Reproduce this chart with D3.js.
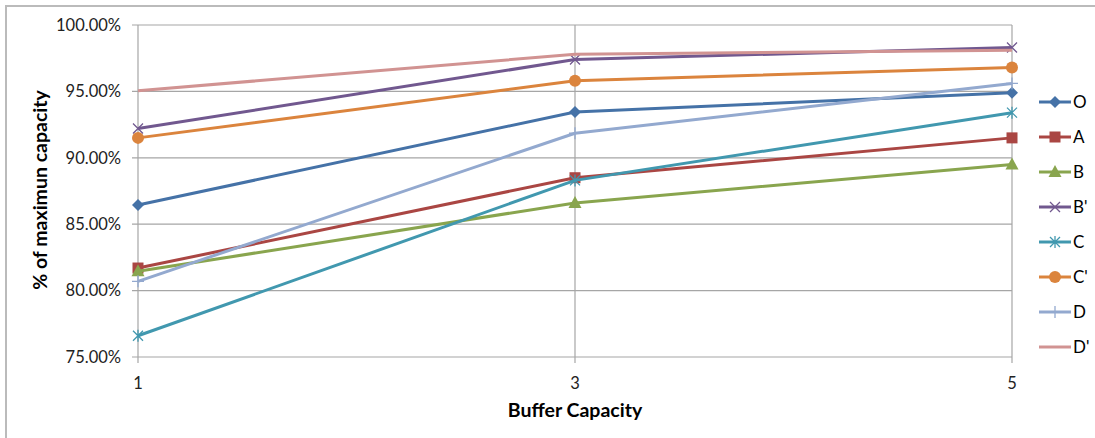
<!DOCTYPE html>
<html>
<head>
<meta charset="utf-8">
<script src="https://cdn.jsdelivr.net/npm/d3@7"></script>
<style>
  body { margin: 0; background: #fff; }
  svg { display: block; font-family: Lato, "Liberation Sans", sans-serif; }
</style>
</head>
<body>
<div id="chart-container"></div>
<script>
// Chart data
const bufferSizes = [1, 3, 5];
const seriesNames = ["O", "A", "B", "B'", "C", "C'", "D", "D'"];
const valuesO  = [86.45, 93.45, 94.9];
const valuesA  = [81.7, 88.5, 91.5];
const valuesB  = [81.45, 86.6, 89.5];
const valuesB2 = [92.2, 97.4, 98.3];
const valuesC  = [76.6, 88.3, 93.4];
const valuesC2 = [91.5, 95.8, 96.8];
const valuesD  = [80.7, 91.85, 95.6];
const valuesD2 = [95.05, 97.8, 98.1];
const yTicks = [75, 80, 85, 90, 95, 100];

const colors = ["#4572A7", "#AA4643", "#89A54E", "#71588F", "#4198AF", "#DB843D", "#93A9CF", "#D19392"];
const markers = ["diamond", "square", "triangle", "x", "star", "circle", "plus", "none"];

const series = [valuesO, valuesA, valuesB, valuesB2, valuesC, valuesC2, valuesD, valuesD2]
  .map((vals, i) => ({ name: seriesNames[i], values: vals, color: colors[i], marker: markers[i] }));

const width = 1095, height = 438;
const svg = d3.select("#chart-container").append("svg")
  .attr("width", width).attr("height", height);

// outer chart border (right/bottom edges fall outside the frame)
svg.append("rect")
  .attr("x", 6).attr("y", 6).attr("width", 1100).attr("height", 440)
  .attr("fill", "none").attr("stroke", "#bbb").attr("stroke-width", 2);

const x = d3.scaleLinear().domain([1, 5]).range([138, 1012]);
const y = d3.scaleLinear().domain([75, 100]).range([357, 25]);

// gridlines
svg.append("g").selectAll("line").data(yTicks).enter().append("line")
  .attr("x1", x(1) - 6).attr("x2", x(5))
  .attr("y1", d => y(d)).attr("y2", d => y(d))
  .attr("stroke", "#a6a6a6").attr("stroke-width", 1.2);

svg.append("g").selectAll("line").data(bufferSizes).enter().append("line")
  .attr("x1", d => x(d)).attr("x2", d => x(d))
  .attr("y1", y(100)).attr("y2", y(75) + 6)
  .attr("stroke", "#a6a6a6").attr("stroke-width", 1.2);

// axis labels
svg.append("g").selectAll("text").data(yTicks).enter().append("text")
  .attr("x", 121).attr("y", d => y(d)).attr("dy", "0.35em")
  .attr("text-anchor", "end").attr("font-size", 16.5).attr("fill", "#222")
  .text(d => d.toFixed(2) + "%");

svg.append("g").selectAll("text").data(bufferSizes).enter().append("text")
  .attr("x", d => x(d)).attr("y", 383).attr("dy", "0.35em")
  .attr("text-anchor", "middle").attr("font-size", 16.5).attr("fill", "#222")
  .text(d => d);

svg.append("text")
  .attr("x", x(3)).attr("y", 410).attr("dy", "0.35em")
  .attr("text-anchor", "middle").attr("font-size", 19.5).attr("font-weight", "bold")
  .text("Buffer Capacity");

svg.append("text")
  .attr("transform", "translate(40," + 190 + ") rotate(-90)")
  .attr("dy", "0.35em").attr("text-anchor", "middle")
  .attr("font-size", 19.5).attr("font-weight", "bold")
  .text("% of maximun capacity");

// marker drawing
function drawMarker(g, type, color, cx, cy) {
  if (type === "diamond") {
    g.append("path").attr("d", `M${cx},${cy - 6}L${cx + 6},${cy}L${cx},${cy + 6}L${cx - 6},${cy}Z`).attr("fill", color);
  } else if (type === "square") {
    g.append("rect").attr("x", cx - 5.5).attr("y", cy - 5.5).attr("width", 11).attr("height", 11).attr("fill", color);
  } else if (type === "triangle") {
    g.append("path").attr("d", `M${cx},${cy - 7}L${cx + 6.5},${cy + 5}L${cx - 6.5},${cy + 5}Z`).attr("fill", color);
  } else if (type === "circle") {
    g.append("circle").attr("cx", cx).attr("cy", cy).attr("r", 6).attr("fill", color);
  } else if (type === "x" || type === "star") {
    const r = 5;
    g.append("path").attr("d", `M${cx - r},${cy - r}L${cx + r},${cy + r}M${cx - r},${cy + r}L${cx + r},${cy - r}` +
        (type === "star" ? `M${cx},${cy - r - 1}L${cx},${cy + r + 1}` : ""))
      .attr("stroke", color).attr("stroke-width", 1.3).attr("fill", "none");
  } else if (type === "plus") {
    g.append("path").attr("d", `M${cx},${cy - 6}L${cx},${cy + 6}M${cx - 6},${cy}L${cx + 6},${cy}`)
      .attr("stroke", color).attr("stroke-width", 1.3);
  }
}

const line = d3.line().x((d, i) => x(bufferSizes[i])).y(d => y(d));

series.forEach(s => {
  const g = svg.append("g");
  g.append("path").attr("d", line(s.values))
    .attr("fill", "none").attr("stroke", s.color).attr("stroke-width", 3)
    .attr("stroke-linejoin", "round");
  s.values.forEach((v, i) => drawMarker(g, s.marker, s.color, x(bufferSizes[i]), y(v)));
});

// legend
const legend = svg.append("g").attr("transform", "translate(1039,102)");
series.forEach((s, i) => {
  const item = legend.append("g").attr("transform", "translate(0," + i * 35 + ")");
  item.append("line").attr("x1", 0).attr("x2", 32).attr("y1", 0).attr("y2", 0)
    .attr("stroke", s.color).attr("stroke-width", 3);
  drawMarker(item, s.marker, s.color, 16, 0);
  item.append("text").attr("x", 34).attr("y", 0).attr("dy", "0.35em")
    .attr("font-size", 17).text(s.name);
});
</script>
</body>
</html>
